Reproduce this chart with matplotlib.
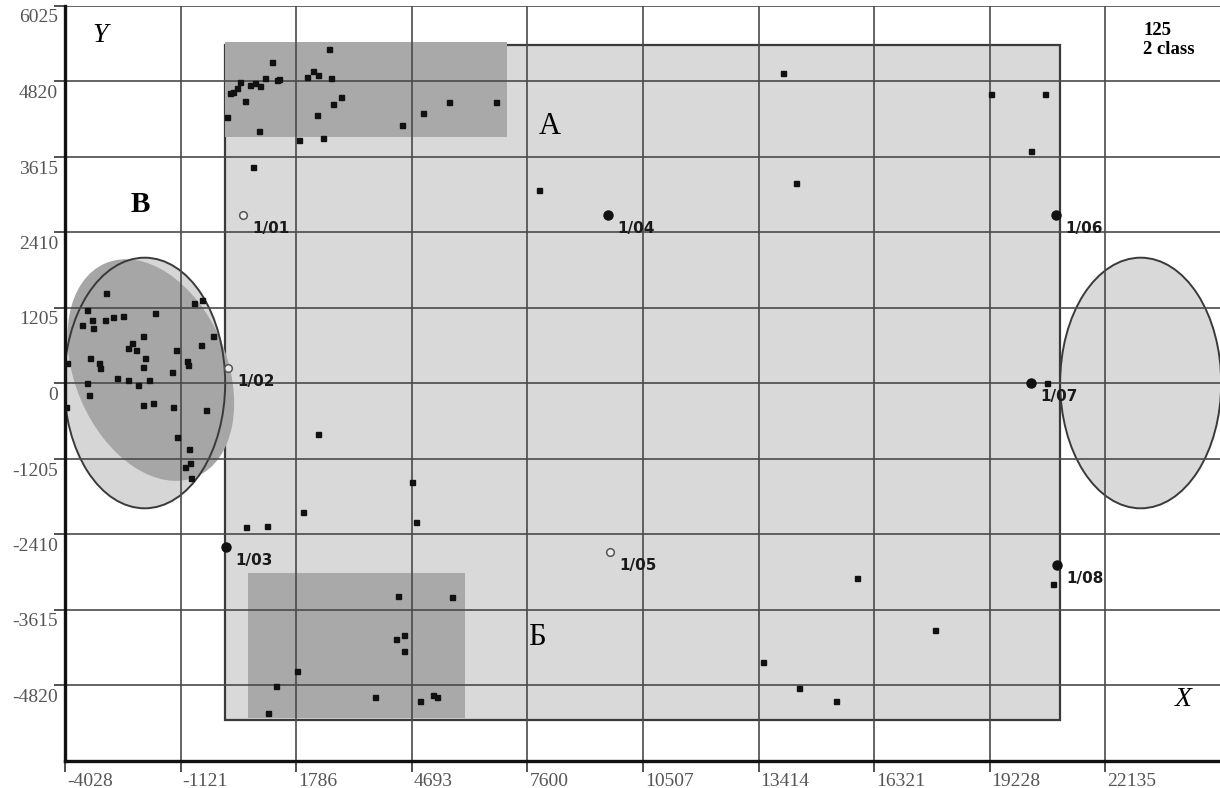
import numpy as np
import matplotlib.pyplot as plt
from matplotlib.patches import Rectangle, Ellipse
from matplotlib.transforms import Affine2D, ScaledTranslation

# axis ticks
x_ticks = [-4028, -1121, 1786, 4693, 7600, 10507, 13414, 16321, 19228, 22135]
y_ticks = [-4820, -3615, -2410, -1205, 0, 1205, 2410, 3615, 4820, 6025]

# small points, group A (top left)
a_x = [1178, 2612, 2058, 2209, 2335, 2662, 1354, 1300, 373, 122, 197, 298, 625, 751,
       876, 1002, 499, 46, 851, 1857, 2310, 2461, 2712, 2913, 4448, 4976, 5630, 6812, 700]
a_y = [5123, 5331, 4884, 4980, 4916, 4868, 4852, 4840, 4804, 4628, 4644, 4708, 4756, 4788,
       4740, 4868, 4501, 4245, 4022, 3878, 4277, 3910, 4453, 4565, 4118, 4309, 4485, 4485, 3447]

# group Б and other points of the middle rectangle
b_x = [14030, 7893, 14357, 19261, 20619, 20267, 20666,
       15891, 17853, 13527, 14432, 15363, 20820,
       4699, 4800, 1958, 524, 1052, 4347, 5705, 4498, 4297, 4498, 1807, 1279, 1077,
       3769, 4900, 5227, 5328, 2335]
b_y = [4948, 3080, 3192, 4612, 4612, 3703, 0,
       -3112, -3942, -4453, -4868, -5075, -3208,
       -1580, -2218, -2059, -2298, -2282, -3399, -3415, -4022, -4086, -4277, -4596, -4836, -5267,
       -5011, -5075, -4980, -5011, -814]

# group В (left ellipse)
c_x = [-2997, -3475, -3600, -3349, -3324, -3022, -2821, -2569, -1765, -2066, -2444, -2343,
       -2242, -2016, -2066, -3399, -3173, -3148, -1236, -1337, -960, -935, -784, -582, -306,
       -608, -2720, -2444, -2192, -1915, -3475, -3424, -2066, -1815, -1312, -482, -1211, -909,
       -1010, -884, -859, -3978, -4003]
c_y = [1436, 1165, 926, 1005, 878, 1005, 1053, 1069, 1117, 750, 559, 638,
       527, 399, 255, 399, 319, 239, 527, 176, 351, 287, 1277, 1325, 750,
       606, 80, 48, -32, 48, 0, -192, -351, -319, -383, -431, -862, -1053,
       -1341, -1277, -1516, 319, -383]

# labelled objects
obj_names = ["1/01", "1/02", "1/03", "1/04", "1/05", "1/06", "1/07", "1/08"]
obj_x = [448, 72, 21, 9627, 9677, 20893, 20264, 20918]
obj_y = [2681, 239, -2618, 2681, -2697, 2681, 0, -2905]
obj_filled = [False, False, True, True, False, True, True, True]

W, H = 1220, 788
fig = plt.figure(figsize=(W / 100, H / 100), dpi=100)
left, bottom, right, top = 65 / W, 27.5 / H, 1.0, 1 - 5.5 / H
ax = fig.add_axes([left, bottom, right - left, top - bottom])
x0, x1 = -4028, 25020
y0, y1 = -6025, 6025
ax.set_xlim(x0, x1)
ax.set_ylim(y0, y1)

# data units per pixel (for shapes drawn in screen proportions)
sx = (x1 - x0) / (W * (right - left))
sy = (y1 - y0) / (H * (top - bottom))

# regions
ax.add_patch(Rectangle((0, -5380), 21000, 10780, facecolor="#d9d9d9",
                       edgecolor="#3a3a3a", lw=1.6, zorder=1))
ax.add_patch(Rectangle((0, 3926), 7087, 1516, facecolor="#a9a9a9", lw=0, zorder=1.2))
ax.add_patch(Rectangle((574, -5347), 5457, 2315, facecolor="#a9a9a9", lw=0, zorder=1.2))

ax.add_patch(Ellipse((-2025, 0), 4050, 4000, facecolor="#d6d6d6", lw=0, zorder=1.1))
inner = Ellipse((0, 0), 152, 232, angle=23, facecolor="#a6a6a6", lw=0, zorder=1.2)
inner.set_transform(Affine2D().scale(sx, sy).translate(-1870, 207) + ax.transData)
ax.add_patch(inner)
ax.add_patch(Ellipse((-2025, 0), 4050, 4000, facecolor="none", edgecolor="#3a3a3a",
                     lw=1.4, zorder=1.3))
ax.add_patch(Ellipse((23025, 0), 4050, 4000, facecolor="#d9d9d9", edgecolor="#3a3a3a",
                     lw=1.4, zorder=1.1))

# grid
for xv in x_ticks:
    ax.axvline(xv, color="#4a4a4a", lw=1.2, zorder=2)
for yv in y_ticks:
    ax.axhline(yv, color="#4a4a4a", lw=1.2, zorder=2)

# points
for gx, gy in [(a_x, a_y), (b_x, b_y), (c_x, c_y)]:
    ax.plot(gx, gy, ls="none", marker="s", ms=3.6, color="#111111", zorder=4)

for name, xv, yv, f in zip(obj_names, obj_x, obj_y, obj_filled):
    if f:
        ax.plot(xv, yv, ls="none", marker="o", ms=6.5, color="#111111", zorder=5)
    else:
        ax.plot(xv, yv, ls="none", marker="o", ms=5.5, mfc="#ececec", mec="#555555",
                mew=1.1, zorder=5)
    ax.annotate(name, (xv, yv), xytext=(6.5, -9.5), textcoords="offset points",
                ha="left", va="center", fontsize=11, fontweight="bold", color="#1a1a1a",
                family=["Liberation Sans Narrow", "DejaVu Sans"], zorder=6)

# region letters and axis names
serif = ["Liberation Serif", "DejaVu Serif"]
ax.text(8170, 4086, "A", fontsize=22, family=serif, ha="center", va="center", zorder=6)
ax.text(7843, -4054, "Б", fontsize=22, family=serif, ha="center", va="center", zorder=6)
ax.text(-2142, 2841, "B", fontsize=21, family=serif, fontweight="bold",
        ha="center", va="center", zorder=6)
ax.text(-3148, 5554, "Y", fontsize=20, family=serif, style="italic",
        ha="center", va="center", zorder=6)
ax.text(24090, -5059, "X", fontsize=20, family=serif, style="italic",
        ha="center", va="center", zorder=6)
ax.text(23084, 5474, "125\n2 class", fontsize=13.5, family=serif, fontweight="bold",
        ha="left", va="center", linespacing=1.2, zorder=6)

# axes
ax.set_xticks(x_ticks)
ax.set_yticks(y_ticks)
ax.set_xticklabels([str(v) for v in x_ticks])
ax.set_yticklabels([str(v) for v in y_ticks])
ax.tick_params(axis="both", direction="out", length=8, width=1.2, color="#333333",
               labelsize=14, labelcolor="#555555")
ax.tick_params(axis="y", pad=-3)
ax.tick_params(axis="x", pad=1)
for lbl in ax.get_xticklabels():
    lbl.set_family(serif)
    lbl.set_horizontalalignment("left")
    lbl.set_transform(lbl.get_transform() + ScaledTranslation(2 / 100, 0, fig.dpi_scale_trans))
for lbl in ax.get_yticklabels():
    lbl.set_family(serif)
    lbl.set_verticalalignment("top")
    lbl.set_transform(lbl.get_transform() + ScaledTranslation(0, -4 / 100, fig.dpi_scale_trans))
for s in ["top", "right"]:
    ax.spines[s].set_visible(False)
for s in ["left", "bottom"]:
    ax.spines[s].set_linewidth(2.4)
    ax.spines[s].set_color("#111111")
    ax.spines[s].set_zorder(7)

fig.savefig("out.png", dpi=100)
